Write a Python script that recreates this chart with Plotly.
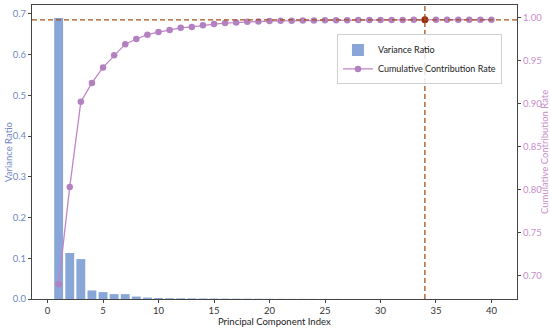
import plotly.graph_objects as go

components = list(range(1, 41))
variance_ratio = [0.690, 0.113, 0.098, 0.021, 0.017, 0.012, 0.012, 0.006, 0.0035, 0.0025,
                  0.002, 0.0018, 0.0015, 0.0013, 0.0011, 0.0009, 0.0008, 0.0007, 0.0006, 0.0005,
                  0.0004, 0.0003, 0.0003, 0.0002, 0.0002, 0.0002, 0.0001, 0.0001, 0.0001, 0.0001,
                  0.0001, 0.0001, 0.0001, 0.0001, 0.00005, 0.00005, 0.00005, 0.00005, 0.00005, 0.00005]
cumulative = [0.690, 0.803, 0.902, 0.924, 0.942, 0.956, 0.969, 0.975, 0.980, 0.983,
              0.9855, 0.988, 0.989, 0.991, 0.9924, 0.9935, 0.9942, 0.9950, 0.9954, 0.9958,
              0.9961, 0.9963, 0.9965, 0.9966, 0.9967, 0.9968, 0.9969, 0.9970, 0.9971, 0.9971,
              0.9972, 0.9972, 0.9973, 0.9973, 0.9974, 0.9974, 0.9974, 0.9975, 0.9975, 0.9975]
selected_k = 34

x_ticks = [0, 5, 10, 15, 20, 25, 30, 35, 40]
left_ticks = [0.0, 0.1, 0.2, 0.3, 0.4, 0.5, 0.6, 0.7]
right_ticks = [0.70, 0.75, 0.80, 0.85, 0.90, 0.95, 1.00]

FONT = "Lato, Open Sans, sans-serif"
LEFT_COLOR = "#6f86c2"
RIGHT_COLOR = "#c98ccc"
LINE_COLOR = "#c283c9"
DASH_COLOR = "#a5521c"

fig = go.Figure()
fig.add_trace(go.Bar(
    x=components, y=variance_ratio, width=0.8, name="Variance Ratio",
    marker=dict(color="rgba(110,148,208,0.82)", line=dict(width=0)),
    yaxis="y",
))
fig.add_trace(go.Scatter(
    x=components, y=cumulative, mode="lines+markers", name="Cumulative Contribution Rate",
    line=dict(color=LINE_COLOR, width=1.3),
    marker=dict(color="#b381c0", size=6.5),
    yaxis="y2",
))
k_val = cumulative[selected_k - 1]
fig.add_trace(go.Scatter(
    x=[selected_k], y=[k_val], mode="markers", showlegend=False,
    marker=dict(color="#9b2c10", size=7), yaxis="y2",
))
fig.add_shape(type="line", xref="paper", yref="y2", x0=0, x1=1, y0=k_val, y1=k_val,
              line=dict(color=DASH_COLOR, width=1.3, dash="5px,3px"))
fig.add_shape(type="line", xref="x", yref="paper", x0=selected_k, x1=selected_k, y0=0, y1=1,
              line=dict(color=DASH_COLOR, width=1.3, dash="5px,3px"))

fig.add_annotation(text="Principal Component Index", xref="paper", yref="paper",
                   x=0.5, y=0, yshift=-22, xanchor="center", yanchor="middle", showarrow=False,
                   font=dict(size=9.5, color="#222"))
fig.add_annotation(text="Variance Ratio", xref="paper", yref="paper", textangle=-90,
                   x=0, xshift=-24, y=0.5, xanchor="center", yanchor="middle", showarrow=False,
                   font=dict(size=9.5, color=LEFT_COLOR))
fig.add_annotation(text="Cumulative Contribution Rate", xref="paper", yref="paper", textangle=-90,
                   x=1, xshift=27, y=0.5, xanchor="center", yanchor="middle", showarrow=False,
                   font=dict(size=9.5, color=RIGHT_COLOR))

fig.update_layout(
    width=550, height=329,
    margin=dict(l=32, r=33, t=5, b=30, autoexpand=False),
    paper_bgcolor="white", plot_bgcolor="white",
    font=dict(family=FONT, size=9.5, color="#222"),
    bargap=0.2,
    xaxis=dict(
        range=[-1.4, 42.3], tickvals=x_ticks, ticks="outside", ticklen=3, automargin=False,
        tickfont=dict(size=9.5, color="#333"),
        showline=True, linecolor="#444", linewidth=1, mirror=True, showgrid=False, zeroline=False,
    ),
    yaxis=dict(
        range=[0, 0.722], tickvals=left_ticks, ticktext=[f"{v:.1f}" for v in left_ticks],
        ticks="outside", ticklen=3, tickfont=dict(size=9.5, color=LEFT_COLOR), automargin=False,
        showline=True, linecolor="#444", linewidth=1, showgrid=False, zeroline=False,
    ),
    yaxis2=dict(
        range=[0.673, 1.0145], overlaying="y", side="right", automargin=False,
        tickvals=right_ticks, ticktext=[f"{v:.2f}" for v in right_ticks],
        ticks="outside", ticklen=3, tickfont=dict(size=9.5, color=RIGHT_COLOR),
        showline=True, linecolor="#444", linewidth=1, showgrid=False, zeroline=False,
    ),
    legend=dict(
        x=0.969, y=0.9, xanchor="right", yanchor="top",
        bgcolor="rgba(255,255,255,0.85)", bordercolor="#d0d0d0", borderwidth=1,
        font=dict(size=9, color="#222"), tracegroupgap=0, itemwidth=30,
    ),
)

fig.write_html("out.html", config={"displayModeBar": False},
               post_script="document.body.style.margin='0';document.body.style.overflow='hidden';")
